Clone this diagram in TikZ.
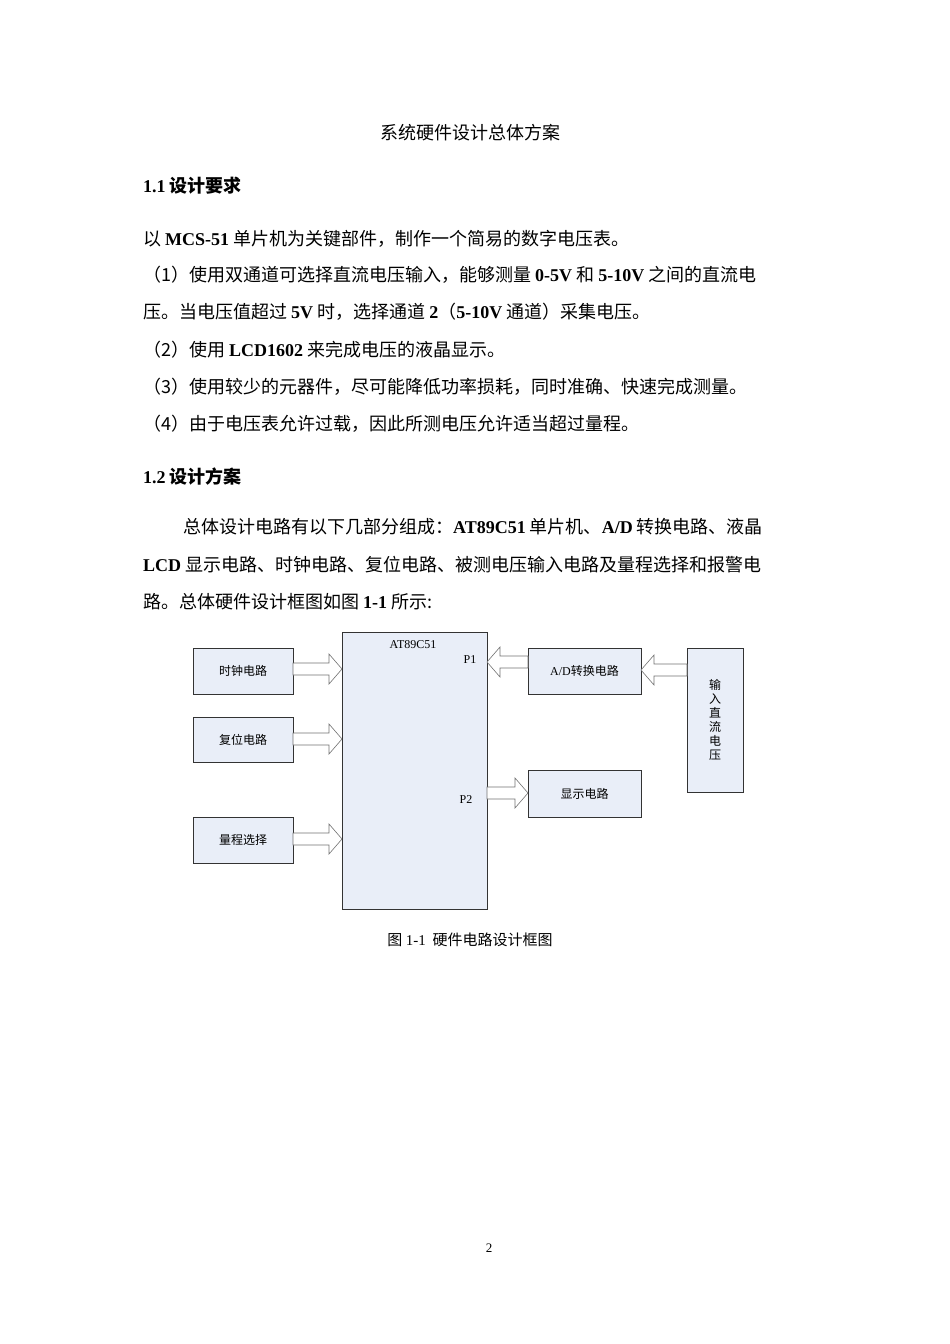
\documentclass[tikz,border=0pt]{standalone}
\usepackage{fontspec}
\setmainfont{Liberation Serif}
\newfontfamily\cjk{Noto Sans CJK SC}
\newcommand\Bl[1]{{\rmfamily\bfseries #1}}
\newcommand\Rl[1]{{\rmfamily #1}}
\definecolor{boxfill}{HTML}{E9EEF8}
\begin{document}
\begin{tikzpicture}[x=1pt,y=-1pt,
  blk/.style={draw=black!80,line width=0.8pt,fill=boxfill},
  bar/.style={draw=black!55,fill=white,line width=0.6pt},
  lbl/.style={font=\fontsize{12}{14}\selectfont\cjk},
  body/.style={anchor=west,inner sep=0pt,font=\fontsize{18}{20}\selectfont\cjk},
  head/.style={anchor=west,inner sep=0pt,font=\fontsize{18}{20}\selectfont\cjk\bfseries}]
\useasboundingbox (0,0) rectangle (950,1344);
\fill[white] (0,0) rectangle (950,1344);
\node[inner sep=0pt,font=\fontsize{18}{20}\selectfont\cjk] (title) at (470,133) {系统硬件设计总体方案};
\node[head] (h1) at (143,186) {\Bl{1.1} 设计要求};
\node[body] (l1) at (143,239) {以 \Bl{MCS-51} 单片机为关键部件，制作一个简易的数字电压表。};
\node[body] (l2) at (143,275) {（1）使用双通道可选择直流电压输入，能够测量 \Bl{0-5V} 和 \Bl{5-10V} 之间的直流电};
\node[body] (l3) at (143,312) {压。当电压值超过 \Bl{5V} 时，选择通道 \Bl{2}（\Bl{5-10V} 通道）采集电压。};
\node[body] (l4) at (143,350) {（2）使用 \Bl{LCD1602} 来完成电压的液晶显示。};
\node[body] (l5) at (143,387) {（3）使用较少的元器件，尽可能降低功率损耗，同时准确、快速完成测量。};
\node[body] (l6) at (143,424) {（4）由于电压表允许过载，因此所测电压允许适当超过量程。};
\node[head] (h2) at (143,477) {\Bl{1.2} 设计方案};
\node[body] (p1) at (183,527) {总体设计电路有以下几部分组成：\Bl{AT89C51} 单片机、\Bl{A/D} 转换电路、液晶};
\node[body] (p2) at (143,565) {\Bl{LCD} 显示电路、时钟电路、复位电路、被测电压输入电路及量程选择和报警电};
\node[body] (p3) at (143,602) {路。总体硬件设计框图如图 \Bl{1-1} 所示:};
% diagram
\node[blk,minimum width=145pt,minimum height=277pt] (mcu) at (414.5,770.5) {};
\node[font=\fontsize{12}{14}\selectfont] (mcuL) at (413,645) {AT89C51};
\node[font=\fontsize{12}{14}\selectfont] (p1L) at (470,660) {P1};
\node[font=\fontsize{12}{14}\selectfont] (p2L) at (466,800) {P2};
\node[blk,lbl,minimum width=100pt,minimum height=46pt] (clk) at (243,671) {时钟电路};
\node[blk,lbl,minimum width=100pt,minimum height=45pt] (rst) at (243,739.5) {复位电路};
\node[blk,lbl,minimum width=100pt,minimum height=46pt] (rng) at (243,840) {量程选择};
\node[blk,lbl,minimum width=113pt,minimum height=46pt] (adc) at (584.5,671) {\Rl{A/D}转换电路};
\node[blk,lbl,minimum width=113pt,minimum height=47pt] (disp) at (584.5,793.5) {显示电路};
\node[blk,lbl,minimum width=56pt,minimum height=144pt,align=center] (vin) at (715,720) {输\\入\\直\\流\\电\\压};
% block arrows
\def\barr#1#2#3#4{%
  \pgfmathsetmacro\hx{#2-(#4)}
  \draw[bar] (#1,#3-6) -- (\hx,#3-6) -- (\hx,#3-15) -- (#2,#3) -- (\hx,#3+15) -- (\hx,#3+6) -- (#1,#3+6) -- cycle;}
\barr{293}{342}{669}{13}
\barr{293}{342}{739}{13}
\barr{293}{342}{839}{13}
\barr{528}{487}{662}{-13}
\barr{687}{641}{670}{-13}
\barr{487}{528}{793}{13}
\node[inner sep=0pt,font=\fontsize{15}{17}\selectfont\cjk] (cap) at (470,940) {图 \Rl{1-1}\ \ 硬件电路设计框图};
\node[inner sep=0pt,font=\fontsize{13}{15}\selectfont] (pg) at (489,1248) {2};
\end{tikzpicture}
\end{document}
